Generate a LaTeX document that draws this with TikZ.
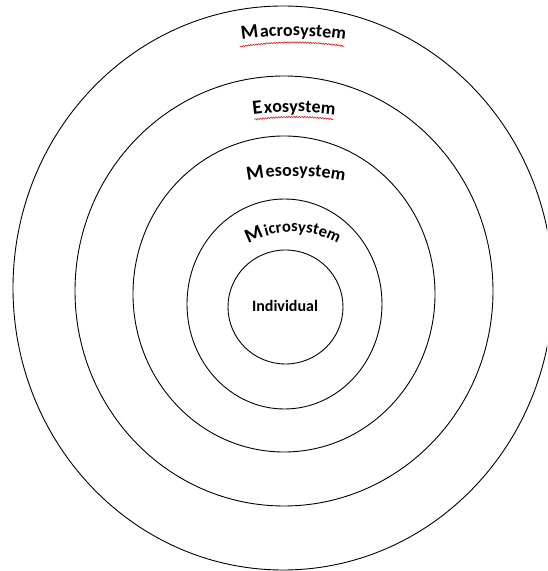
\documentclass[tikz,border=0pt]{standalone}
\usepackage{fontspec}
\setmainfont{Carlito}
\usetikzlibrary{decorations.text,decorations.pathmorphing}
\newcommand\waM{\fontsize{20pt}{20pt}\selectfont\bfseries}
\newcommand\wa{\fontsize{18pt}{18pt}\selectfont\bfseries}
\newcommand\was{\fontsize{16.5pt}{16.5pt}\selectfont\bfseries}
\begin{document}
\begin{tikzpicture}[x=1pt,y=1pt,
  ring/.style={draw=black, line width=0.9pt},
  squiggle/.style={draw=red!85!black, line width=0.5pt, decorate,
    decoration={snake, amplitude=0.7pt, segment length=2.6pt}},
  walabel/.style={decorate, decoration={text along path, text align=center, text={#1}}},
  centerlabel/.style={font=\fontsize{16pt}{16pt}\selectfont\bfseries, inner sep=0pt}
]
\clip (0,0) rectangle (547,571);
% ring centres
\coordinate (cOut) at (283,283);
\coordinate (cExo) at (284,280);
\coordinate (cMes) at (284,277);
\coordinate (cMic) at (284.5,267);
\coordinate (cInd) at (285.5,264);
% rings
\draw[ring] (cOut) ellipse [x radius=270pt, y radius=282pt];
\draw[ring] (cExo) ellipse [x radius=209pt, y radius=215pt];
\draw[ring] (cMes) ellipse [x radius=151pt, y radius=158pt];
\draw[ring] (cMic) ellipse [x radius=97.5pt, y radius=105pt];
\draw[ring] (cInd) ellipse [x radius=57.5pt, y radius=57pt];
% arc centres for the curved labels
\coordinate (aMa) at (293.5,185);
\coordinate (aEx) at (294,139);
\coordinate (aMe) at (296,145);
\coordinate (aMi) at (293,246);
% curved labels
\path[walabel={|\waM|M|\wa\kern1.5pt|a|\wa|crosystem}]
  ([shift={(105:350pt)}]aMa) arc[start angle=105, end angle=75, radius=350pt];
\path[walabel={|\waM|E|\wa\kern1.5pt|x|\wa|osystem}]
  ([shift={(104:320pt)}]aEx) arc[start angle=104, end angle=76, radius=320pt];
\path[walabel={|\waM|M|\wa\kern1.5pt|e|\wa|sosystem}]
  ([shift={(108:250pt)}]aMe) arc[start angle=108, end angle=72, radius=250pt];
\path[walabel={|\waM|M|\was\kern1.5pt|i|\was|crosystem}]
  ([shift={(135:93pt)}]aMi) arc[start angle=135, end angle=45, radius=93pt];
% spell-check squiggles
\draw[squiggle] ([shift={(99:343.5pt)}]aMa) arc[start angle=99, end angle=81.5, radius=343.5pt];
\draw[squiggle] ([shift={(97.2:315pt)}]aEx) arc[start angle=97.2, end angle=82.8, radius=315pt];
% centre label
\node[centerlabel] (ind) at (285,265.5) {Individual};
\end{tikzpicture}
\end{document}
